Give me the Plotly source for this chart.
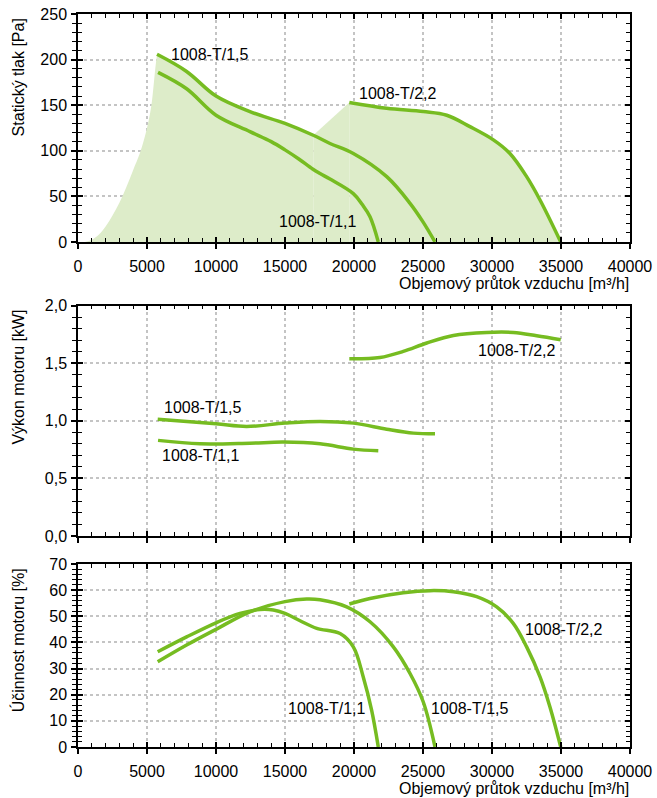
import plotly.graph_objects as go

# ---------------- data ----------------
# Static pressure [Pa] vs air flow [m3/h]
p15_q = [5725, 7870, 10000, 12460, 15000, 17050, 18260, 19950, 22370, 24060, 25000, 25870]
p15_v = [205.8, 187, 160, 143, 130, 117, 108, 97, 71.6, 42.4, 22, 0]

p11_q = [5800, 7870, 10000, 12460, 14000, 15000, 16000, 17000, 17540, 18260, 19950, 20600, 21160, 21760]
p11_v = [186, 168, 139, 121, 110, 101, 91, 80, 75, 69, 53, 41, 27.7, 0]

p22_q = [19660, 22370, 25020, 26720, 28400, 30100, 31300, 32510, 33480, 34980]
p22_v = [153, 146.6, 143, 139, 126.5, 112, 97, 71.6, 46, 0]

# working-area envelope (shaded): rising left edge and joining edge
edge_q = [500, 1000, 1500, 2000, 2500, 3000, 3500, 4000, 4500, 5000, 5300, 5500, 5600, 5725]
edge_p = [0, 2.5, 8, 17, 29, 43, 60, 79, 98, 125, 148, 175, 190, 205.8]
join_q = [17050, 19660]
join_p = [117, 153]
N_P15_FILL = 6  # p15 points (5725 .. 17050) that bound the shaded area

# Motor power [kW]
w15_q = [5775, 10000, 12220, 15000, 17540, 19950, 22370, 24300, 25870]
w15_v = [1.014, 0.974, 0.951, 0.98, 0.995, 0.98, 0.927, 0.893, 0.887]

w11_q = [5800, 8840, 12460, 14880, 17540, 19950, 21760]
w11_v = [0.83, 0.80, 0.806, 0.815, 0.80, 0.754, 0.739]

w22_q = [19660, 21880, 23570, 25270, 27200, 29620, 31540, 33240, 34980]
w22_v = [1.539, 1.55, 1.603, 1.676, 1.742, 1.768, 1.768, 1.739, 1.704]

# Motor efficiency [%]
e11_q = [5775, 7870, 10000, 11740, 13190, 14150, 15000, 16090, 17300, 18990, 19950, 20670, 21280, 21760]
e11_v = [36.4, 42.1, 47.5, 51.1, 52.6, 52.4, 51.1, 48.3, 45.4, 43.4, 38.3, 26.8, 14, 0]

e15_q = [5775, 7870, 10000, 12460, 15000, 16570, 17540, 19470, 21160, 22850, 24060, 25020, 25870]
e15_v = [32.6, 39, 45, 51.7, 55.6, 56.6, 56.3, 53.6, 47.9, 38.3, 28.1, 17.2, 0]

e22_q = [19660, 21160, 23570, 25510, 27200, 28890, 30340, 31540, 32510, 33480, 34200, 34980]
e22_v = [54.7, 56.8, 59, 59.8, 59.4, 57.5, 53.6, 47.3, 38.3, 26.8, 15.3, 0]

# labels: (text, x, y, xanchor)
labels_top = [("1008-T/1,5", 6670, 206, "left"), ("1008-T/2,2", 20290, 163, "left"),
              ("1008-T/1,1", 20250, 22, "right")]
labels_mid = [("1008-T/1,5", 6160, 1.12, "left"), ("1008-T/1,1", 6010, 0.70, "left"),
              ("1008-T/2,2", 28890, 1.61, "left")]
labels_bot = [("1008-T/1,1", 15170, 14.7, "left"), ("1008-T/1,5", 25510, 14.7, "left"),
              ("1008-T/2,2", 32300, 45, "left")]

x_title = "Objemový průtok vzduchu [m³/h]"
y_titles = ["Statický tlak [Pa]", "Výkon motoru [kW]", "Účinnost motoru [%]"]

# ---------------- styling ----------------
GREEN = "rgb(118,188,33)"
FILL = "rgb(221,236,201)"
FONT = "Liberation Sans, Arial, sans-serif"
FS = 16
SMOOTH = 1.0

fig = go.Figure()

def shade(q, v, shape):
    fig.add_trace(go.Scatter(x=q, y=v, fill="tozeroy", fillcolor=FILL, mode="lines",
                             line=dict(width=0, color=FILL, shape=shape, smoothing=SMOOTH),
                             hoverinfo="skip", xaxis="x", yaxis="y"))

shade(edge_q, edge_p, "spline")
shade(p15_q[:N_P15_FILL], p15_v[:N_P15_FILL], "spline")
shade(join_q, join_p, "linear")
shade(p22_q, p22_v, "spline")

def curve(q, v, xa, ya):
    fig.add_trace(go.Scatter(x=q, y=v, mode="lines", xaxis=xa, yaxis=ya,
                             line=dict(color=GREEN, width=3.5, shape="spline", smoothing=SMOOTH)))

curve(p15_q, p15_v, "x", "y")
curve(p11_q, p11_v, "x", "y")
curve(p22_q, p22_v, "x", "y")
curve(w15_q, w15_v, "x2", "y2")
curve(w11_q, w11_v, "x2", "y2")
curve(w22_q, w22_v, "x2", "y2")
curve(e11_q, e11_v, "x3", "y3")
curve(e15_q, e15_v, "x3", "y3")
curve(e22_q, e22_v, "x3", "y3")

doms = [[0.689, 1.0], [0.288, 0.602], [0.0, 0.2497]]
yranges = [[0, 250], [0, 2], [0, 70]]
ydticks = [50, 0.5, 10]
yminor = [10, 0.1, 2]
showx = [True, False, True]

tickfont = dict(family=FONT, size=FS, color="black")
layout = dict(
    width=657, height=798, showlegend=False,
    margin=dict(l=78, r=27, t=14, b=51, autoexpand=False),
    paper_bgcolor="white", plot_bgcolor="white",
    font=dict(family=FONT, size=FS, color="black"),
    separators=",",
)

for i in range(3):
    n = "" if i == 0 else str(i + 1)
    on = str(i + 4)
    layout["xaxis" + n] = dict(
        domain=[0, 1], anchor="y" + n, range=[0, 40000], dtick=5000, tick0=0,
        showgrid=True, gridcolor="#c4c4c4", griddash="dot", gridwidth=1.5,
        showline=True, linecolor="black", linewidth=1.5, zeroline=False,
        ticks="outside", ticklen=5, tickwidth=1.5, tickcolor="black",
        minor=dict(ticks="outside", ticklen=0, dtick=1000, showgrid=False),
        showticklabels=showx[i], tickfont=tickfont, exponentformat="none",
        ticklabelstandoff=4, automargin=False,
    )
    layout["yaxis" + n] = dict(
        domain=doms[i], anchor="x" + n, range=yranges[i], dtick=ydticks[i], tick0=0,
        showgrid=True, gridcolor="#c4c4c4", griddash="dot", gridwidth=1.5,
        showline=True, linecolor="black", linewidth=1.5, zeroline=False,
        ticks="outside", ticklen=5, tickwidth=1.5, tickcolor="black",
        minor=dict(ticks="outside", ticklen=4, dtick=yminor[i], tickwidth=1.2,
                   tickcolor="black", showgrid=False),
        tickfont=tickfont, ticklabelstandoff=1, automargin=False,
        tickformat=".1f" if i == 1 else None,
    )
    # overlay axes giving inside ticks on all four sides
    layout["xaxis" + on] = dict(
        overlaying="x" + n, anchor="y" + n, range=[0, 40000], dtick=5000, tick0=0,
        showgrid=False, showline=True, linecolor="black", linewidth=1.5, mirror="allticks",
        ticks="inside", ticklen=5, tickwidth=1.5, tickcolor="black",
        minor=dict(ticks="inside", ticklen=4, dtick=1000, tickwidth=1.2, tickcolor="black"),
        showticklabels=False, zeroline=False, automargin=False,
    )
    layout["yaxis" + on] = dict(
        overlaying="y" + n, anchor="x" + n, range=yranges[i], dtick=ydticks[i], tick0=0,
        showgrid=False, showline=True, linecolor="black", linewidth=1.5, mirror="allticks",
        ticks="inside", ticklen=5, tickwidth=1.5, tickcolor="black",
        minor=dict(ticks="inside", ticklen=4, dtick=yminor[i], tickwidth=1.2, tickcolor="black"),
        showticklabels=False, zeroline=False, automargin=False,
    )
    # dummy invisible traces so the overlay axes are drawn
    fig.add_trace(go.Scatter(x=[None], y=[None], xaxis="x" + on, yaxis="y" + on,
                             mode="lines", hoverinfo="skip"))

annotations = []
for (t, x, y, xa), ax in [(l, "") for l in labels_top] + [(l, "2") for l in labels_mid] + [(l, "3") for l in labels_bot]:
    annotations.append(dict(text=t, x=x, y=y, xref="x" + ax, yref="y" + ax, xanchor=xa,
                            yanchor="middle", showarrow=False, borderpad=0,
                            font=dict(family=FONT, size=FS, color="black")))

# axis titles
for i, yt in enumerate(y_titles):
    annotations.append(dict(text=yt, textangle=-90, x=-0.108, y=doms[i][1], xref="paper",
                            yref="paper", xanchor="center", yanchor="top", yshift=-3,
                            showarrow=False, borderpad=0,
                            font=dict(family=FONT, size=FS, color="black")))
for yy in [doms[0][0], doms[2][0]]:
    annotations.append(dict(text=x_title, x=1.0, y=yy, xref="paper", yref="paper",
                            xanchor="right", yanchor="top", yshift=-32, showarrow=False,
                            borderpad=0, font=dict(family=FONT, size=FS, color="black")))

layout["annotations"] = annotations
fig.update_layout(**layout)
fig.write_html("out.html", config={"displayModeBar": False},
               post_script="document.body.style.margin='0px';")
